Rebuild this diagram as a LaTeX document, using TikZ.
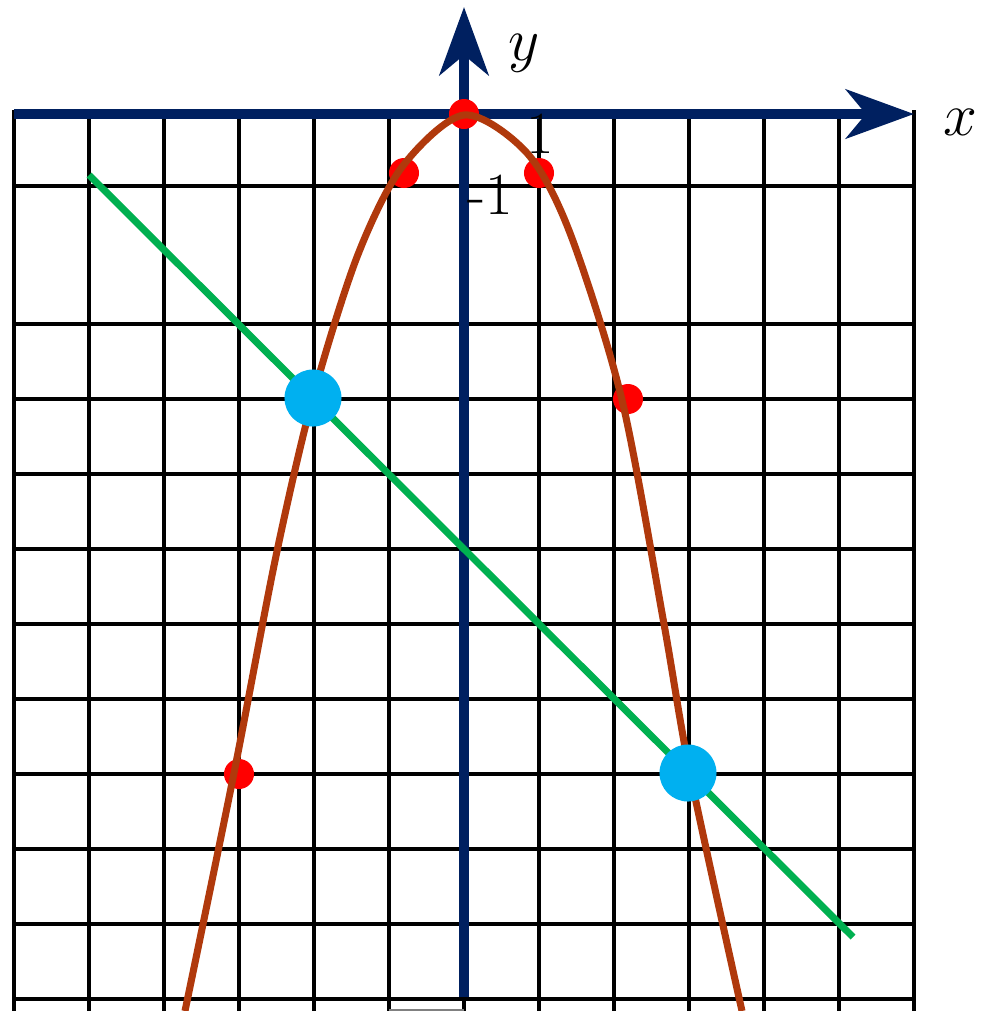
\documentclass[tikz,border=0pt]{standalone}
\usetikzlibrary{arrows.meta}
\definecolor{axisnavy}{HTML}{002060}
\definecolor{parabrown}{HTML}{B0390C}
\definecolor{chordgreen}{HTML}{00B050}
\definecolor{dotred}{HTML}{FF0000}
\definecolor{dotblue}{HTML}{00B0F0}
\tikzset{
    gridline/.style={draw=black,line width=0.9pt},
    axis/.style={draw=axisnavy,line width=2.9pt,-{Stealth[length=6.8mm,width=4.9mm,inset=2mm]}},
    parab/.style={draw=parabrown,line width=2pt},
    chord/.style={draw=chordgreen,line width=2pt},
    reddot/.style={circle,fill=dotred,inner sep=0pt,minimum size=3mm},
    bluedot/.style={circle,fill=dotblue,inner sep=0pt,minimum size=5.7mm},
}

\begin{document}
\begin{tikzpicture}[x=0.01cm,y=-0.01cm,font=\fontsize{17}{20}\selectfont]
    \useasboundingbox (0,0) rectangle (986,1011);
    % grid
    \foreach \gx in {14,89,...,914}{
        \draw[gridline] (\gx,110) -- (\gx,1011);
    }
    \foreach \gy in {186,324,399,474,549,624,699,774,849,924,999}{
        \draw[gridline] (14,\gy) -- (914,\gy);
    }
    \draw[gray,line width=0.5pt] (389,1010) -- (464,1010);
    % axes
    \coordinate (xstart) at (14,114);
    \coordinate (xtip) at (914,114);
    \coordinate (ystart) at (464,997);
    \coordinate (ytip) at (464,7);
    \draw[axis] (xstart) -- (xtip);
    \draw[axis] (ystart) -- (ytip);
    % table points
    \foreach \px/\py in {464/114,404/173,539/173,628/399,239/774}{
        \node[reddot] at (\px,\py) {};
    }
    \draw[parab] plot[smooth] coordinates {(185,1011) (234,773) (276,556) (313,397) (357,257) (402,167) (464,115) (527,153) (570,233) (622,400) (664,624) (690,773) (742,1011)};
    \coordinate (g1) at (89,175);
    \coordinate (g2) at (853,937);
    \draw[chord] (g1) -- (g2);
    \node[bluedot] (A) at (313,398) {};
    \node[bluedot] (B) at (688,773) {};
    % labels
    \node (xlab) at (960,122) {$x$};
    \node (ylab) at (524,53) {$y$};
    \node (one) at (540,134) {1};
    \node (mone) at (490,195) {-1};
\end{tikzpicture}
\end{document}
